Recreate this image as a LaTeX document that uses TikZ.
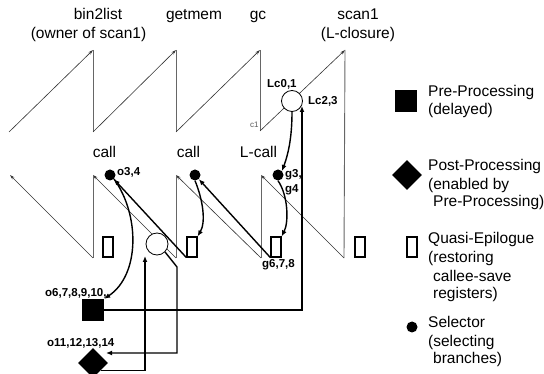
\documentclass[tikz,border=0pt]{standalone}
\usepackage{fontspec}
\setmainfont{Liberation Sans}
\usetikzlibrary{arrows.meta,shapes.geometric}
\begin{document}
\begin{tikzpicture}[x=1pt,y=-1pt,
  saw/.style={black!80, line width=0.6pt},
  sawv/.style={black!60, line width=0.9pt},
  sawarr/.style={saw,-{Stealth[length=5pt,width=3pt]}},
  flowline/.style={line width=1.4pt},
  flow/.style={flowline,-{Latex[length=6pt,width=5pt]}},
  sel/.style={circle, fill=black, inner sep=0pt, minimum size=11pt},
  qe/.style={draw, line width=1.2pt, fill=white, inner sep=0pt, minimum width=10pt, minimum height=20pt},
  pre/.style={fill=black, inner sep=0pt, minimum size=22pt},
  post/.style={diamond, aspect=1, fill=black, inner sep=0pt, minimum width=30pt, minimum height=30pt},
  openc/.style={circle, draw, line width=0.8pt, fill=white, inner sep=0pt},
  lab/.style={font=\fontsize{15.5}{18}\selectfont, inner sep=0pt, anchor=base},
  leg/.style={font=\fontsize{15.5}{18}\selectfont, inner sep=0pt, anchor=base west},
  bl/.style={font=\fontsize{11.5}{13}\selectfont\bfseries, inner sep=0pt, anchor=base west},
]
\useasboundingbox (0,0) rectangle (544,374);
% sawtooth coordinates
\coordinate (s0) at (9,132);
\coordinate (s1t) at (93,50);  \coordinate (s1b) at (93,132);
\coordinate (s2t) at (176,50); \coordinate (s2b) at (176,132);
\coordinate (s3t) at (260,50); \coordinate (s3b) at (260,131);
\coordinate (s4t) at (345,50); \coordinate (s4b) at (344,258);
\coordinate (r3t) at (261,175); \coordinate (r3b) at (261,258);
\coordinate (r2t) at (176,175); \coordinate (r2b) at (176,258);
\coordinate (r1t) at (93,175);  \coordinate (r1b) at (93,258);
\coordinate (r0) at (10,175);
% top row
\draw[sawarr] (s0) -- (s1t);
\draw[sawv] (s1t) -- (s1b);
\draw[sawarr] (s1b) -- (s2t);
\draw[sawv] (s2t) -- (s2b);
\draw[sawarr] (s2b) -- (s3t);
\draw[sawv] (s3t) -- (s3b);
\draw[sawarr] (s3b) -- (s4t);
\draw[sawv] (s4t) -- (s4b);
% bottom row
\draw[sawarr] (s4b) -- (r3t);
\draw[sawv] (r3t) -- (r3b);
\draw[sawarr] (r3b) -- (r2t);
\draw[sawv] (r2t) -- (r2b);
\draw[sawarr] (r2b) -- (r1t);
\draw[sawv] (r1t) -- (r1b);
\draw[sawarr] (r1b) -- (r0);
% labels top
\node[lab] (nb2l) at (98,20) {bin2list};
\node[lab] (nown) at (88.5,39) {(owner of scan1)};
\node[lab] (ngm) at (194,20) {getmem};
\node[lab] (ngc) at (258,20) {gc};
\node[lab] (nsc) at (358,20) {scan1};
\node[lab] (nlc) at (358,39) {(L-closure)};
\node[lab] (ncall1) at (104.5,158) {call};
\node[lab] (ncall2) at (188.5,158) {call};
\node[lab] (nlcall) at (258.5,158) {L-call};
% circles
\node[openc, minimum size=21pt] (tc) at (292,101) {};
\node[openc, minimum size=22pt] (lc) at (157,244) {};
% selectors
\node[sel] (d1) at (110,175) {};
\node[sel] (d2) at (195,175) {};
\node[sel] (d3) at (278,175) {};
% quasi-epilogues
\node[qe] (q1) at (108,247) {};
\node[qe] (q2) at (192,247) {};
\node[qe] (q3) at (276,247) {};
\node[qe] (q4) at (360,247) {};
% pre / post
\node[pre] (sq) at (93,310) {};
\node[post] (dm) at (93,363) {};
% small labels
\node[bl] (lo34) at (117,176) {o3,4};
\node[bl] (lg3) at (285,178) {g3,};
\node[bl] (lg4) at (285,193) {g4};
\node[bl] (llc01) at (267,88) {Lc0,1};
\node[bl] (llc23) at (308,105) {Lc2,3};
\node[bl] (lo6) at (45,297) {o6,7,8,9,10,};
\node[bl] (lo11) at (47,347) {o11,12,13,14};
\node[bl] (lg678) at (262,268) {g6,7,8};
\node[font=\fontsize{8}{9}\selectfont, text=black!65, inner sep=0pt, anchor=base west] (lc1) at (250,128) {c1};
% connectors
\coordinate (cA) at (302,310);
\coordinate (cAe) at (302,106);
\draw[flow] (sq.east) -- (cA) -- (cAe);
\draw[flow] (tc.south) .. controls (292,135) and (289,152) .. (d3.north east);
\draw[flow] (d3.south) .. controls (288,195) and (289,222) .. (q3.north east);
\draw[flow] (d1.south east) .. controls (140,215) and (140,275) .. (sq.north east);
\draw[flow] (d2.south) .. controls (203,200) and (206,222) .. (q2.north east);
\draw[flow] (q3.south west) -- (d2);
\draw[flow] (q2.south west) -- (d1);
\coordinate (h1) at (177,267);
\coordinate (h2) at (177,353);
\coordinate (h3) at (106,353);
\draw[flow] (lc.-45) -- (h1) -- (h2) -- (h3);
\coordinate (k2) at (145,256);
\draw[flow] (dm.south east) -| (k2);
% legend
\node[pre] (lsq) at (406,101) {};
\node[post] (ldm) at (407,175) {};
\node[qe] (lqe) at (412,247) {};
\node[sel] (lsel) at (412,327) {};
\node[leg] (t1) at (428,97) {Pre-Processing};
\node[leg] (t2) at (428,115) {(delayed)};
\node[leg] (t3) at (428,171) {Post-Processing};
\node[leg] (t4) at (428,190) {(enabled by};
\node[leg] (t5) at (433,207) {Pre-Processing)};
\node[leg] (t6) at (428,244) {Quasi-Epilogue};
\node[leg] (t7) at (428,263) {(restoring};
\node[leg] (t8) at (433,282) {callee-save};
\node[leg] (t9) at (433,299) {registers)};
\node[leg] (t10) at (428,327) {Selector};
\node[leg] (t11) at (428,346) {(selecting};
\node[leg] (t12) at (433,363) {branches)};
\end{tikzpicture}
\end{document}
